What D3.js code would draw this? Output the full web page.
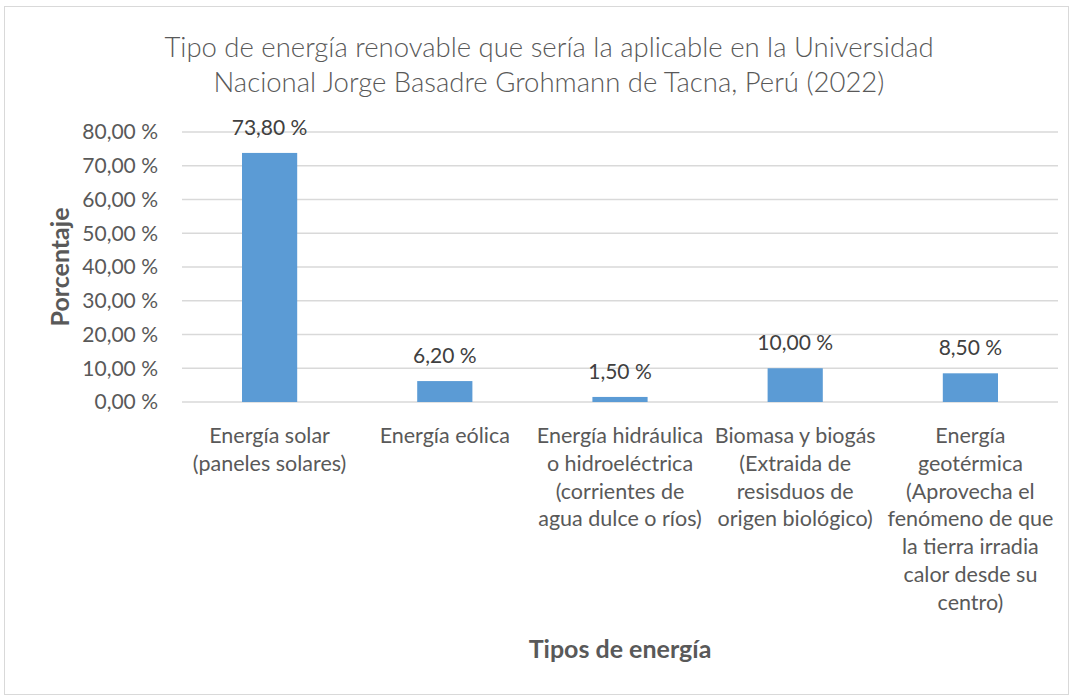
<!DOCTYPE html>
<html>
<head>
<meta charset="utf-8">
<script src="https://cdn.jsdelivr.net/npm/d3@7"></script>
<style>
  body { margin: 0; background: #fff; }
  text { font-family: Lato, "Open Sans", sans-serif; fill: #595959; }
</style>
</head>
<body>
<script>
// datos del grafico
const categorias = [
  ['Energía solar', '(paneles solares)'],
  ['Energía eólica'],
  ['Energía hidráulica', 'o hidroeléctrica', '(corrientes de', 'agua dulce o ríos)'],
  ['Biomasa y biogás', '(Extraida de', 'resisduos de', 'origen biológico)'],
  ['Energía', 'geotérmica', '(Aprovecha el', 'fenómeno de que', 'la tierra irradia', 'calor desde su', 'centro)']
];
const valores = [73.8, 6.2, 1.5, 10.0, 8.5];
const ticksY = [0, 10, 20, 30, 40, 50, 60, 70, 80];
const titulo = ['Tipo de energía renovable que sería la aplicable en la Universidad',
  'Nacional Jorge Basadre Grohmann de Tacna, Perú (2022)'];

const fmt = v => v.toFixed(2).replace('.', ',') + ' %';

const svg = d3.select('body').append('svg')
  .attr('width', 1075)
  .attr('height', 697);

// borde del grafico
svg.append('rect')
  .attr('x', 4.5).attr('y', 6.5)
  .attr('width', 1064).attr('height', 688)
  .attr('fill', '#fff')
  .attr('stroke', '#d9d9d9');

const x = d3.scaleBand()
  .domain(d3.range(valores.length))
  .range([182, 1058])
  .paddingInner(0.685)
  .paddingOuter(0.3425);

const y = d3.scaleLinear()
  .domain([0, 80])
  .range([402, 132]);

// lineas de cuadricula
svg.append('g')
  .selectAll('line')
  .data(ticksY).enter()
  .append('line')
  .attr('x1', 182).attr('x2', 1058)
  .attr('y1', d => y(d)).attr('y2', d => y(d))
  .attr('stroke', '#d9d9d9')
  .attr('stroke-width', 1.3);

// etiquetas eje y
svg.append('g')
  .selectAll('text')
  .data(ticksY).enter()
  .append('text')
  .attr('x', 158)
  .attr('y', d => y(d))
  .attr('dy', '0.35em')
  .attr('text-anchor', 'end')
  .style('font-size', '21px')
  .text(d => fmt(d));

// barras
svg.append('g')
  .selectAll('rect')
  .data(valores).enter()
  .append('rect')
  .attr('x', (d, i) => x(i))
  .attr('y', d => y(d))
  .attr('width', x.bandwidth())
  .attr('height', d => y(0) - y(d))
  .attr('fill', '#5b9bd5');

// etiquetas de datos
svg.append('g')
  .selectAll('text')
  .data(valores).enter()
  .append('text')
  .attr('x', (d, i) => x(i) + x.bandwidth() / 2)
  .attr('y', d => y(d) - 18)
  .attr('text-anchor', 'middle')
  .style('font-size', '21px')
  .style('fill', '#404040')
  .text(d => fmt(d));

// etiquetas eje x
const cat = svg.append('g')
  .selectAll('text')
  .data(categorias).enter()
  .append('text')
  .attr('x', (d, i) => x(i) + x.bandwidth() / 2)
  .attr('y', 443)
  .attr('text-anchor', 'middle')
  .style('font-size', '21.5px');
cat.selectAll('tspan')
  .data(d => d).enter()
  .append('tspan')
  .attr('x', function () { return d3.select(this.parentNode).attr('x'); })
  .attr('dy', (d, i) => i === 0 ? 0 : 27.8)
  .text(d => d);

// titulo
svg.append('g')
  .selectAll('text')
  .data(titulo).enter()
  .append('text')
  .attr('x', 549)
  .attr('y', (d, i) => 57 + i * 35)
  .attr('text-anchor', 'middle')
  .style('font-size', '27.5px')
  .style('font-weight', 300)
  .text(d => d);

// titulos de ejes
svg.append('text')
  .attr('transform', 'translate(69,267) rotate(-90)')
  .attr('text-anchor', 'middle')
  .style('font-size', '25px')
  .style('font-weight', 'bold')
  .text('Porcentaje');

svg.append('text')
  .attr('x', 620)
  .attr('y', 658)
  .attr('text-anchor', 'middle')
  .style('font-size', '25px')
  .style('font-weight', 'bold')
  .text('Tipos de energía');
</script>
</body>
</html>
